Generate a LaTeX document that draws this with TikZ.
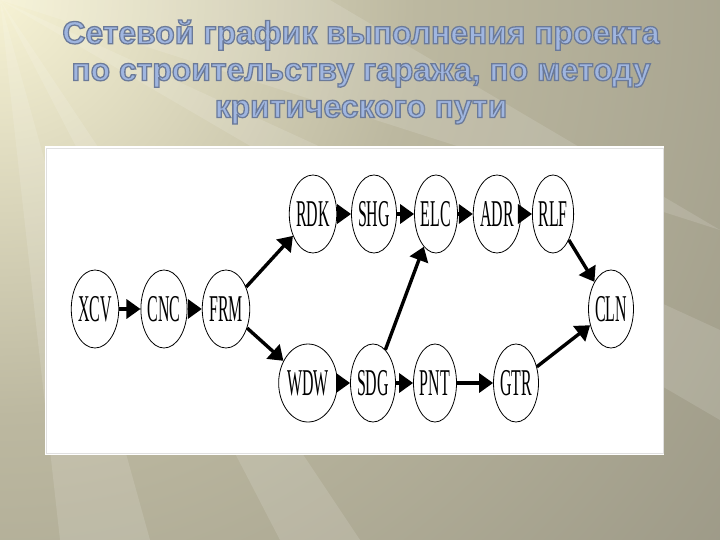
\documentclass[tikz,border=0pt]{standalone}
\usepackage{fontspec}
\usepackage{graphicx}
\setmainfont{Liberation Serif}
\newfontfamily\titlefont{Liberation Sans}
\usetikzlibrary{shapes.geometric,arrows.meta}
\definecolor{bgbase}{RGB}{140,137,122}
\definecolor{bgmid}{RGB}{188,184,160}
\definecolor{bgcream}{RGB}{246,242,212}
\definecolor{titleblue}{RGB}{160,182,224}
\newcommand\tk[1]{\scalebox{0.42}[1]{#1}}
\newcommand\outlinedtext[1]{\special{pdf:literal direct 2 Tr 1.3 w 0.42 0.48 0.60 RG}#1\special{pdf:literal direct 0 Tr}}
\pgfdeclareradialshading{bgshade}{\pgfpoint{0bp}{0bp}}{color(0bp)=(bgcream); color(8bp)=(bgmid); color(23bp)=(bgbase); color(50bp)=(bgbase)}
\tikzset{
  task/.style={ellipse, draw=black, line width=0.8bp, fill=white, inner sep=0pt,
    minimum width=43bp, minimum height=78bp,
    font=\fontsize{38}{38}\selectfont},
  arr/.style={line width=3.4bp, -{Triangle[length=14bp,width=19bp]}},
  ray/.style={fill=white, opacity=0.13}
}
\begin{document}
\begin{tikzpicture}[x=1bp,y=-1bp]
\useasboundingbox (0,0) rectangle (720,540);
\begin{scope}
  \clip (0,0) rectangle (720,540);
  \fill[bgbase] (0,0) rectangle (720,540);
  \shade[shading=bgshade] (0,0) circle (1300);
  \fill[ray] (0,0) -- (60,540) -- (150,540) -- cycle;
  \fill[ray] (0,0) -- (280,540) -- (360,540) -- cycle;
  \fill[ray] (0,0) -- (330,0) -- (720,230) -- cycle;
  \fill[ray] (0,0) -- (720,330) -- (720,420) -- cycle;
\end{scope}
% title
\node[text=titleblue, align=center, font=\titlefont\bfseries\fontsize{32}{37}\selectfont]
  (title) at (361,72) {\outlinedtext{Сетевой график выполнения проекта}\\\outlinedtext{по строительству гаража, по методу}\\\outlinedtext{критического пути}};
% white panel
\fill[white] (45,146) rectangle (664,455);
\draw[black!12, line width=0.6bp] (46,148) rectangle (663,453);
% nodes
\node[task] (XCV) at (95,309) {\tk{XCV}};
\node[task] (CNC) at (164,309) {\tk{CNC}};
\node[task] (FRM) at (226,309) {\tk{FRM}};
\node[task] (RDK) at (313,214) {\tk{RDK}};
\node[task, minimum width=47bp] (WDW) at (308,383) {\tk{WDW}};
\node[task] (SHG) at (374,214) {\tk{SHG}};
\node[task] (SDG) at (373,383) {\tk{SDG}};
\node[task] (ELC) at (436,214) {\tk{ELC}};
\node[task] (PNT) at (435,383) {\tk{PNT}};
\node[task] (ADR) at (497,214) {\tk{ADR}};
\node[task] (GTR) at (516,383) {\tk{GTR}};
\node[task, minimum width=32bp] (RLF) at (553,214) {\tk{RLF}};
\node[task, minimum width=44bp] (CLN) at (611,309) {\tk{CLN}};
% edges
\draw[arr] (XCV) -- (CNC);
\draw[arr] (CNC) -- (FRM);
\draw[arr] (FRM) -- (RDK);
\draw[arr] (FRM) -- (WDW);
\draw[arr] (RDK) -- (SHG);
\draw[arr] (SHG) -- (ELC);
\draw[arr] (ELC) -- (ADR);
\draw[arr] (ADR) -- (RLF);
\draw[arr] (RLF) -- (CLN);
\draw[arr] (WDW) -- (SDG);
\draw[arr] (SDG) -- (ELC);
\draw[arr] (SDG) -- (PNT);
\draw[arr] (PNT) -- (GTR);
\draw[arr] (GTR) -- (CLN);
\end{tikzpicture}
\end{document}
